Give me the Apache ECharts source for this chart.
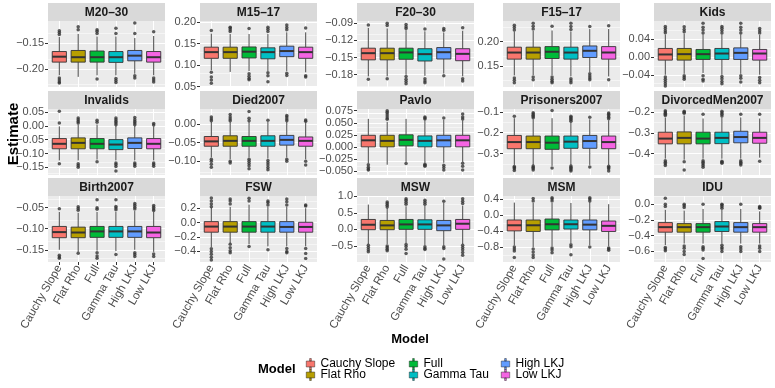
<!DOCTYPE html>
<html>
<head>
<meta charset="utf-8">
<script src="https://cdn.jsdelivr.net/npm/echarts@6/dist/echarts.min.js"></script>
<style>
  html, body { margin: 0; padding: 0; background: #fff; }
  #chart { width: 775px; height: 388px; }
</style>
</head>
<body>
<div id="chart"></div>
<script>
const models = ['Cauchy Slope', 'Flat Rho', 'Full', 'Gamma Tau', 'High LKJ', 'Low LKJ'];
const colors = ['#F8766D', '#B79F00', '#00BA38', '#00BFC4', '#619CFF', '#F564E3'];
const facets = ['M20–30', 'M15–17', 'F20–30', 'F15–17', 'Kids', 'Invalids', 'Died2007', 'Pavlo',
  'Prisoners2007', 'DivorcedMen2007', 'Birth2007', 'FSW', 'MSW', 'MSM', 'IDU'];

// box stats per model: [low whisker, q1, median, q3, high whisker]
const m2030Box = [[-0.212, -0.1865, -0.176, -0.166, -0.138], [-0.215, -0.1865, -0.177, -0.164, -0.132], [-0.212, -0.1865, -0.177, -0.165, -0.137],
  [-0.212, -0.187, -0.177, -0.166, -0.137], [-0.209, -0.184, -0.174, -0.164, -0.140], [-0.212, -0.1865, -0.177, -0.166, -0.136]];
const m2030Out = [[-0.133, -0.129, -0.126, -0.217, -0.221, -0.225, -0.227], [-0.124, -0.118], [-0.127, -0.131, -0.124, -0.219],
  [-0.121, -0.131, -0.218, -0.222, -0.226], [-0.111, -0.131, -0.213, -0.217], [-0.128, -0.217, -0.221, -0.225]];
const m2030Ticks = ['−0.20', '−0.15'];
const m2030Range = [-0.2346, -0.107];

const m1517Box = [[0.088, 0.1156, 0.130, 0.1415, 0.173], [0.084, 0.1156, 0.130, 0.1415, 0.172], [0.086, 0.1165, 0.131, 0.142, 0.172],
  [0.086, 0.1145, 0.130, 0.140, 0.172], [0.086, 0.1195, 0.1325, 0.1438, 0.176], [0.083, 0.1156, 0.130, 0.1415, 0.176]];
const m1517Out = [[0.180, 0.083, 0.072, 0.065, 0.058], [0.178, 0.182, 0.186, 0.188], [0.185, 0.080, 0.074, 0.069, 0.066],
  [0.178, 0.183, 0.188, 0.082, 0.075, 0.061], [0.182, 0.187, 0.193, 0.081, 0.076], [0.186, 0.075, 0.072]];
const m1517Ticks = ['0.05', '0.10', '0.15', '0.20'];
const m1517Range = [0.049, 0.2023];

const f2030Box = [[-0.183, -0.154, -0.1423, -0.1336, -0.098], [-0.183, -0.154, -0.1423, -0.1336, -0.099], [-0.180, -0.153, -0.141, -0.1336, -0.102],
  [-0.182, -0.156, -0.144, -0.1345, -0.104], [-0.178, -0.1525, -0.1406, -0.1325, -0.106], [-0.183, -0.1555, -0.1435, -0.1345, -0.103]];
const f2030Out = [[-0.093, -0.188], [-0.090, -0.094, -0.187], [-0.092, -0.096, -0.099, -0.183, -0.188, -0.192, -0.196],
  [-0.100, -0.187, -0.191, -0.194], [-0.099, -0.102, -0.182], [-0.098, -0.187, -0.191]];
const f2030Ticks = ['−0.18', '−0.15', '−0.12', '−0.09'];
const f2030Range = [-0.2015, -0.086];

const f1517Box = [[0.130, 0.1638, 0.1774, 0.1885, 0.221], [0.131, 0.1638, 0.1774, 0.1885, 0.222], [0.131, 0.1651, 0.179, 0.1897, 0.223],
  [0.128, 0.1638, 0.1774, 0.1885, 0.221], [0.137, 0.1672, 0.181, 0.191, 0.226], [0.128, 0.1638, 0.1775, 0.1897, 0.226]];
const f1517Out = [[0.224, 0.229, 0.234, 0.125, 0.120, 0.115], [0.226, 0.232, 0.238, 0.127, 0.121], [0.232, 0.127, 0.122, 0.118, 0.115],
  [0.225, 0.231, 0.238, 0.123, 0.119, 0.115], [0.231, 0.1335, 0.129, 0.125, 0.121], [0.233, 0.121]];
const f1517Ticks = ['0.15', '0.20'];
const f1517Range = [0.1062, 0.2426];

const kidsBox = [[-0.040, -0.0073, 0.0053, 0.0187, 0.050], [-0.038, -0.0073, 0.006, 0.0187, 0.052], [-0.036, -0.0058, 0.006, 0.0165, 0.050],
  [-0.040, -0.0058, 0.0074, 0.0187, 0.050], [-0.038, -0.0058, 0.0089, 0.020, 0.050], [-0.040, -0.0073, 0.0074, 0.0165, 0.049]];
const kidsOut = [[0.054, 0.058, 0.063, 0.068, -0.045, -0.050, -0.055, -0.060, -0.065], [0.056, 0.061, 0.067, -0.042, -0.046, -0.050],
  [0.053, 0.060, 0.066, 0.075, -0.042, -0.050, -0.054], [0.053, 0.059, 0.064, 0.068, -0.044, -0.049, -0.055, -0.060],
  [0.053, 0.060, 0.066, 0.075, -0.042, -0.048, -0.056], [0.053, 0.058, 0.063, -0.046, -0.052, -0.058]];
const kidsTicks = ['−0.04', '0.00', '0.04'];
const kidsRange = [-0.0673, 0.080];

const invalidsBox = [[-0.125, -0.083, -0.065, -0.046, -0.002], [-0.125, -0.083, -0.0616, -0.0436, 0.005], [-0.122, -0.083, -0.065, -0.046, 0.005],
  [-0.125, -0.086, -0.0677, -0.0497, 0.000], [-0.125, -0.082, -0.0616, -0.0436, 0.000], [-0.125, -0.083, -0.065, -0.046, -0.002]];
const invalidsOut = [[0.0526, 0.0104, -0.137], [0.010, 0.016, 0.022, 0.028, -0.137, -0.143, -0.150], [0.013, 0.020, -0.130],
  [0.004, 0.010, 0.016, 0.022, 0.028, -0.134, -0.140, -0.147, -0.163], [0.004, 0.010, 0.016, 0.022, 0.030, -0.134, -0.140, -0.146],
  [0.003, 0.008, -0.134, -0.140, -0.146]];
const invalidsTicks = ['−0.15', '−0.10', '−0.05', '0.00', '0.05'];
const invalidsRange = [-0.1777, 0.0608];

const diedBox = [[-0.090, -0.060, -0.047, -0.034, 0.005], [-0.095, -0.060, -0.0456, -0.032, 0.005], [-0.090, -0.060, -0.0456, -0.034, 0.005],
  [-0.093, -0.060, -0.0456, -0.032, 0.005], [-0.090, -0.057, -0.043, -0.031, 0.005], [-0.095, -0.060, -0.0456, -0.0352, 0.004]];
const diedOut = [[0.008, 0.013, 0.018, -0.095, -0.100, -0.108, -0.116], [0.008, 0.013, 0.018, 0.025, -0.100, -0.105],
  [0.008, 0.015, 0.033, -0.095, -0.100, -0.106, -0.112, -0.120], [0.0097, -0.098, -0.104, -0.110, -0.117, -0.123],
  [0.008, 0.013, 0.018, 0.022, -0.095, -0.100], [0.007, 0.010, -0.100, -0.110]];
const diedTicks = ['−0.10', '−0.05', '0.00'];
const diedRange = [-0.1368, 0.0395];

const pavloBox = [[-0.034, 0.0, 0.0136, 0.024, 0.058], [-0.037, 0.0, 0.0124, 0.024, 0.052], [-0.031, 0.0021, 0.0145, 0.025, 0.058],
  [-0.033, 0.0, 0.0124, 0.0227, 0.055], [-0.033, 0.0, 0.0136, 0.024, 0.056], [-0.031, 0.0, 0.0136, 0.024, 0.055]];
const pavloOut = [[-0.037, -0.042, -0.046, -0.048], [0.057, 0.060, 0.064, 0.068, 0.072, 0.075], [-0.0345],
  [0.058, 0.060, 0.062, -0.036, -0.038, -0.040], [0.060, -0.038, -0.043, -0.048], [0.058, 0.062, 0.068, -0.034, -0.040, -0.048]];
const pavloTicks = ['−0.050', '−0.025', '0.000', '0.025', '0.050', '0.075'];
const pavloRange = [-0.0583, 0.0785];

const prisonersBox = [[-0.355, -0.277, -0.245, -0.213, -0.130], [-0.355, -0.277, -0.245, -0.216, -0.135], [-0.360, -0.280, -0.248, -0.216, -0.130],
  [-0.355, -0.275, -0.243, -0.216, -0.150], [-0.355, -0.275, -0.240, -0.213, -0.135], [-0.355, -0.277, -0.245, -0.216, -0.140]];
const prisonersOut = [[-0.120, -0.363, -0.368, -0.374, -0.382], [-0.104, -0.110, -0.116, -0.122, -0.128, -0.360, -0.366, -0.372, -0.380],
  [-0.093, -0.370], [-0.120, -0.126, -0.132, -0.138, -0.145, -0.360, -0.366, -0.372, -0.378, -0.385], [-0.125, -0.365],
  [-0.105, -0.111, -0.118, -0.125, -0.132, -0.362, -0.368, -0.374, -0.384]];
const prisonersTicks = ['−0.3', '−0.2', '−0.1'];
const prisonersRange = [-0.4037, -0.0856];

const divorcedBox = [[-0.425, -0.353, -0.3275, -0.2966, -0.225], [-0.430, -0.353, -0.324, -0.295, -0.215], [-0.425, -0.353, -0.3275, -0.2966, -0.230],
  [-0.425, -0.352, -0.324, -0.2966, -0.225], [-0.425, -0.348, -0.320, -0.292, -0.225], [-0.420, -0.350, -0.324, -0.2966, -0.230]];
const divorcedOut = [[-0.192, -0.198, -0.204, -0.210, -0.216, -0.435, -0.442, -0.450, -0.458], [-0.195, -0.200, -0.205, -0.440, -0.480],
  [-0.210, -0.435, -0.442, -0.450, -0.458, -0.466], [-0.195, -0.202, -0.210, -0.218, -0.437, -0.442, -0.447],
  [-0.210, -0.435, -0.442, -0.448, -0.455], [-0.210, -0.437]];
const divorcedTicks = ['−0.4', '−0.3', '−0.2'];
const divorcedRange = [-0.504, -0.184];

const birthBox = [[-0.150, -0.1213, -0.108, -0.0946, -0.060], [-0.155, -0.1213, -0.109, -0.0962, -0.062], [-0.152, -0.1205, -0.1064, -0.0946, -0.060],
  [-0.153, -0.1205, -0.1064, -0.0946, -0.060], [-0.150, -0.1205, -0.1064, -0.0946, -0.058], [-0.155, -0.1213, -0.109, -0.0946, -0.060]];
const birthOut = [[-0.0527, -0.163, -0.167, -0.170], [-0.048, -0.052, -0.056, -0.158], [-0.031, -0.050, -0.054, -0.157, -0.165, -0.170],
  [-0.031, -0.047, -0.051, -0.055, -0.161], [-0.040, -0.044, -0.049, -0.053, -0.157, -0.161, -0.166], [-0.045, -0.049, -0.053, -0.057, -0.160, -0.166]];
const birthTicks = ['−0.15', '−0.10', '−0.05'];
const birthRange = [-0.179, -0.0223];

const fswBox = [[-0.340, -0.133, -0.055, 0.014, 0.210], [-0.290, -0.133, -0.055, 0.014, 0.22], [-0.300, -0.133, -0.055, 0.014, 0.25],
  [-0.330, -0.133, -0.055, 0.014, 0.22], [-0.330, -0.133, -0.060, 0.014, 0.22], [-0.330, -0.133, -0.060, 0.005, 0.20]];
const fswOut = [[0.221, 0.26, 0.30, 0.342, -0.364, -0.40, -0.44, -0.48, -0.52], [0.26, 0.30, 0.33, -0.30, -0.35, -0.39, -0.42],
  [0.30, 0.34, -0.33], [0.245, 0.28, 0.30, -0.378], [0.245, 0.29, 0.33, -0.36, -0.40, -0.42], [0.23, 0.245, -0.36, -0.43, -0.50]];
const fswTicks = ['−0.4', '−0.2', '0.0', '0.2'];
const fswRange = [-0.547, 0.370];

const mswBox = [[-0.45, -0.01, 0.14, 0.30, 0.75], [-0.45, -0.01, 0.12, 0.27, 0.65], [-0.42, 0.0, 0.15, 0.30, 0.70],
  [-0.48, 0.0, 0.15, 0.29, 0.72], [-0.48, -0.04, 0.12, 0.27, 0.80], [-0.45, 0.0, 0.17, 0.30, 0.72]];
const mswOut = [[-0.48, -0.55, -0.62, -0.68], [0.68, 0.73, 0.78, 0.83, -0.50, -0.55, -0.60, -0.65], [0.76, 0.82, 0.88, 0.93, -0.46, -0.52, -0.60, -0.73],
  [0.76, 0.82, 0.88, -0.53, -0.58, -0.61], [0.85, -0.53, -0.58, -0.90], [0.78, 0.85, 0.93, -0.48, -0.55, -0.62, -0.70, -0.78]];
const mswTicks = ['−0.5', '0.0', '0.5', '1.0'];
const mswRange = [-0.988, 1.01];

const msmBox = [[-0.76, -0.397, -0.256, -0.124, 0.31], [-0.80, -0.41, -0.256, -0.124, 0.30], [-0.78, -0.37, -0.23, -0.10, 0.30],
  [-0.70, -0.35, -0.23, -0.124, 0.30], [-0.75, -0.37, -0.24, -0.124, 0.32], [-0.78, -0.41, -0.27, -0.15, 0.27]];
const msmOut = [[-0.80, -0.85, -0.90, -1.06], [0.35, 0.41, -0.85, -0.92, -1.0, -1.06], [0.35, 0.40, 0.43, -0.82, -0.87, -0.94],
  [-0.74, -0.79, -0.99], [0.35, 0.40, 0.43, -0.80], [-0.82, -0.85, -0.88]];
const msmTicks = ['−0.8', '−0.4', '0.0', '0.4'];
const msmRange = [-1.172, 0.4745];

const iduBox = [[-0.52, -0.355, -0.291, -0.233, -0.07], [-0.50, -0.355, -0.291, -0.246, -0.08], [-0.50, -0.355, -0.291, -0.246, -0.06],
  [-0.50, -0.346, -0.283, -0.22, -0.07], [-0.50, -0.355, -0.291, -0.233, -0.06], [-0.50, -0.355, -0.291, -0.246, -0.09]];
const iduOut = [[-0.03, 0.0, 0.076, -0.55, -0.57, -0.59], [-0.04, -0.02, 0.0, -0.53, -0.56, -0.60, -0.64], [0.0, -0.54, -0.56, -0.58, -0.69],
  [-0.05, -0.03, -0.01, 0.0, -0.52, -0.55, -0.57, -0.60], [0.0, -0.54, -0.57, -0.60], [-0.05, -0.04, -0.03, -0.53, -0.56, -0.60]];
const iduTicks = ['−0.6', '−0.4', '−0.2', '0.0'];
const iduRange = [-0.734, 0.105];

const panelBoxes = [m2030Box, m1517Box, f2030Box, f1517Box, kidsBox, invalidsBox, diedBox, pavloBox, prisonersBox, divorcedBox, birthBox, fswBox, mswBox, msmBox, iduBox];
const panelOuts = [m2030Out, m1517Out, f2030Out, f1517Out, kidsOut, invalidsOut, diedOut, pavloOut, prisonersOut, divorcedOut, birthOut, fswOut, mswOut, msmOut, iduOut];
const panelTicks = [m2030Ticks, m1517Ticks, f2030Ticks, f1517Ticks, kidsTicks, invalidsTicks, diedTicks, pavloTicks, prisonersTicks, divorcedTicks, birthTicks, fswTicks, mswTicks, msmTicks, iduTicks];
const panelRanges = [m2030Range, m1517Range, f2030Range, f1517Range, kidsRange, invalidsRange, diedRange, pavloRange, prisonersRange, divorcedRange, birthRange, fswRange, mswRange, msmRange, iduRange];

// layout
const colLeft = [48, 200, 357, 503, 654];
const rowTop = [21, 109, 196];
const panelW = 117, panelH = 66, stripH = 18;
const font = '"Liberation Sans", Arial, sans-serif';
const xPos = [1, 2, 3, 4, 5, 6];

const toNum = s => parseFloat(s.replace('−', '-'));

function nearestLabel(labels, v) {
  let best = labels[0], d = Infinity;
  labels.forEach(s => {
    const dd = Math.abs(toNum(s) - v);
    if (dd < d) { d = dd; best = s; }
  });
  return best;
}

function renderBox(params, api) {
  const x = api.value(0);
  const pLow = api.coord([x, api.value(1)]);
  const pQ1 = api.coord([x, api.value(2)]);
  const pMed = api.coord([x, api.value(3)]);
  const pQ3 = api.coord([x, api.value(4)]);
  const pHigh = api.coord([x, api.value(5)]);
  const w = api.size([0.75, 0])[0];
  const lw = { stroke: '#333333', lineWidth: 0.9 };
  return {
    type: 'group',
    children: [
      { type: 'line', shape: { x1: pLow[0], y1: pLow[1], x2: pQ1[0], y2: pQ1[1] }, style: lw },
      { type: 'line', shape: { x1: pQ3[0], y1: pQ3[1], x2: pHigh[0], y2: pHigh[1] }, style: lw },
      { type: 'rect', shape: { x: pQ3[0] - w / 2, y: pQ3[1], width: w, height: pQ1[1] - pQ3[1] },
        style: { fill: api.visual('color'), stroke: '#333333', lineWidth: 0.9 } },
      { type: 'line', shape: { x1: pMed[0] - w / 2, y1: pMed[1], x2: pMed[0] + w / 2, y2: pMed[1] },
        style: { stroke: '#333333', lineWidth: 2 } }
    ]
  };
}

const grids = [], xAxes = [], yAxes = [], series = [], graphics = [];

facets.forEach((name, i) => {
  const r = Math.floor(i / 5), c = i % 5;
  const bottom = r === 2;
  const labels = panelTicks[i];
  const tv = labels.map(toNum);
  const range = panelRanges[i];
  const step = tv[1] - tv[0];
  const minors = [];
  for (let m = tv[0] - step / 2; m <= tv[tv.length - 1] + step; m += step) {
    if (m > range[0] && m < range[1]) minors.push(m);
  }

  grids.push({ left: colLeft[c], top: rowTop[r], width: panelW, height: panelH,
    show: true, backgroundColor: '#EBEBEB', borderWidth: 0 });

  xAxes.push({
    type: 'value', gridIndex: i, min: 0.4, max: 6.6,
    axisLine: { show: false }, splitLine: { show: false },
    axisTick: { show: bottom, customValues: xPos, length: 3, lineStyle: { color: '#333333' } },
    axisLabel: { show: bottom, customValues: xPos, formatter: v => models[Math.round(v) - 1],
      rotate: 60, margin: 4, color: '#4D4D4D', fontSize: 11.5, fontFamily: font }
  });

  yAxes.push({
    type: 'value', gridIndex: i, min: range[0], max: range[1],
    axisLine: { show: false }, splitLine: { show: false },
    axisTick: { show: true, customValues: tv, length: 3, lineStyle: { color: '#333333' } },
    axisLabel: { customValues: tv, formatter: v => nearestLabel(labels, v),
      margin: 4, color: '#4D4D4D', fontSize: 11, fontFamily: font }
  });

  // panel grid lines
  const lines = [];
  minors.forEach(m => lines.push({ yAxis: m, lineStyle: { color: '#fff', width: 0.5, type: 'solid' } }));
  tv.forEach(t => lines.push({ yAxis: t, lineStyle: { color: '#fff', width: 1, type: 'solid' } }));
  xPos.forEach(p => lines.push({ xAxis: p, lineStyle: { color: '#fff', width: 1, type: 'solid' } }));
  series.push({
    type: 'line', xAxisIndex: i, yAxisIndex: i, data: [], silent: true,
    markLine: { silent: true, symbol: 'none', z: 1, animation: false, label: { show: false }, data: lines }
  });

  models.forEach((m, k) => {
    series.push({
      type: 'custom', name: m, xAxisIndex: i, yAxisIndex: i, z: 3, silent: true,
      itemStyle: { color: colors[k], borderColor: '#333333', borderWidth: 0.6 },
      encode: { x: 0, y: [1, 2, 3, 4, 5] },
      data: [[k + 1].concat(panelBoxes[i][k])],
      renderItem: renderBox
    });
  });

  const pts = [];
  panelOuts[i].forEach((arr, k) => arr.forEach(v => pts.push([k + 1, v])));
  series.push({
    type: 'scatter', xAxisIndex: i, yAxisIndex: i, z: 4, silent: true,
    symbolSize: 3.5, itemStyle: { color: '#333333' }, data: pts
  });

  // strip
  graphics.push({
    type: 'group', left: colLeft[c], top: rowTop[r] - stripH,
    children: [
      { type: 'rect', shape: { x: 0, y: 0, width: panelW, height: stripH }, style: { fill: '#D9D9D9' } },
      { type: 'text', x: panelW / 2, y: stripH / 2 + 0.5,
        style: { text: name, fill: '#1A1A1A', font: 'bold 12px ' + font, textAlign: 'center', textVerticalAlign: 'middle' } }
    ]
  });
});

graphics.push({ type: 'text', x: 14, y: 134, rotation: Math.PI / 2,
  style: { text: 'Estimate', fill: '#000', font: 'bold 15px ' + font, textAlign: 'center', textVerticalAlign: 'middle' } });
graphics.push({ type: 'text', x: 410, y: 339,
  style: { text: 'Model', fill: '#000', font: 'bold 13px ' + font, textAlign: 'center', textVerticalAlign: 'middle' } });
graphics.push({ type: 'text', x: 258, y: 369,
  style: { text: 'Model', fill: '#000', font: 'bold 13px ' + font, textAlign: 'left', textVerticalAlign: 'middle' } });

// legend: column-major 2 rows x 3 columns, one legend per key
const keyIcon = 'path://M4,0h2v3h-2zM0,3h10v7h-10zM4,10h2v3h-2z';
const legendLeft = [306, 409, 501];
const legendTop = [358, 369];
const legends = models.map((m, k) => ({
  data: [m], left: legendLeft[Math.floor(k / 2)], top: legendTop[k % 2],
  itemWidth: 10, itemHeight: 11, icon: keyIcon, selectedMode: false, padding: 0,
  itemStyle: { borderColor: '#333333', borderWidth: 0.5 },
  textStyle: { fontSize: 12, color: '#000', fontFamily: font, lineHeight: 11 }
}));

const chart = echarts.init(document.getElementById('chart'));
chart.setOption({
  animation: false,
  backgroundColor: '#fff',
  grid: grids,
  xAxis: xAxes,
  yAxis: yAxes,
  legend: legends,
  graphic: graphics,
  series: series
});
</script>
</body>
</html>
